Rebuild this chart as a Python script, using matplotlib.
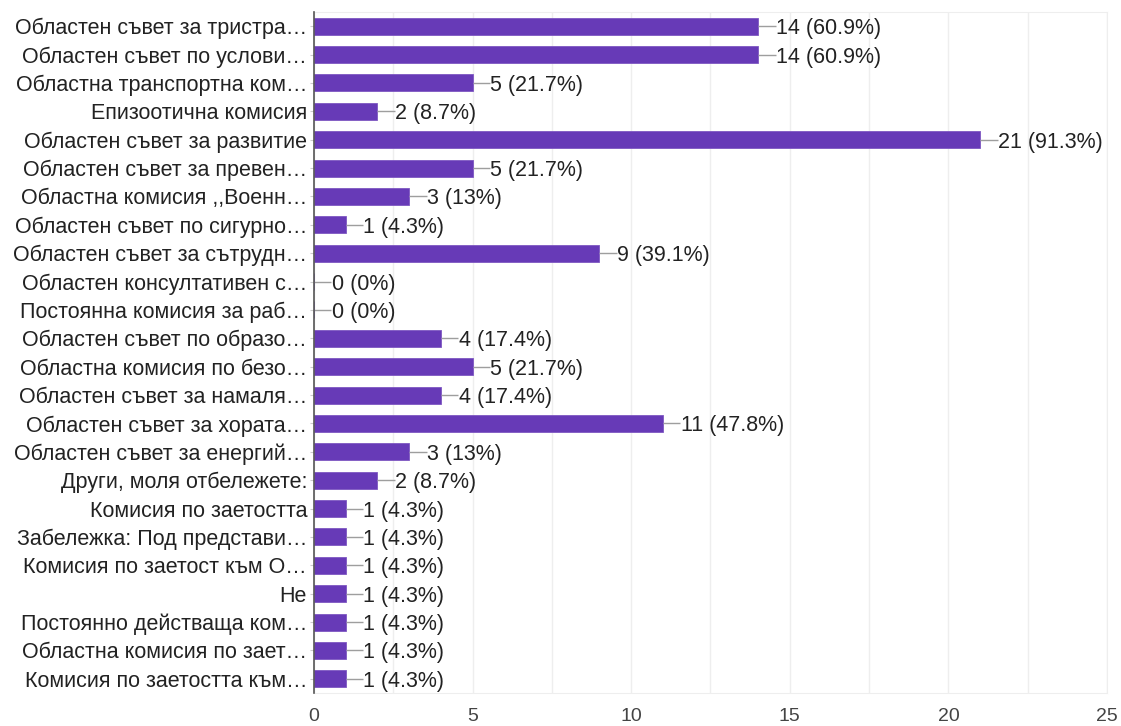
import matplotlib.pyplot as plt
import numpy as np

plt.rcParams['font.family'] = ['Liberation Sans', 'DejaVu Sans']

# ---------- Data ----------
labels = [
    "Областен съвет за тристра…",
    "Областен съвет по услови…",
    "Областна транспортна ком…",
    "Епизоотична комисия",
    "Областен съвет за развитие",
    "Областен съвет за превен…",
    "Областна комисия ,,Военн…",
    "Областен съвет по сигурно…",
    "Областен съвет за сътрудн…",
    "Областен консултативен с…",
    "Постоянна комисия за раб…",
    "Областен съвет по образо…",
    "Областна комисия по безо…",
    "Областен съвет за намаля…",
    "Областен съвет за хората…",
    "Областен съвет за енергий…",
    "Други, моля отбележете:",
    "Комисия по заетостта",
    "Забележка: Под представи…",
    "Комисия по заетост към О…",
    "Не",
    "Постоянно действаща ком…",
    "Областна комисия по зает…",
    "Комисия по заетостта към…",
]
counts = [14, 14, 5, 2, 21, 5, 3, 1, 9, 0, 0, 4, 5, 4, 11, 3, 2, 1, 1, 1, 1, 1, 1, 1]
pcts = ["60.9", "60.9", "21.7", "8.7", "91.3", "21.7", "13", "4.3", "39.1", "0", "0",
        "17.4", "21.7", "17.4", "47.8", "13", "8.7", "4.3", "4.3", "4.3", "4.3", "4.3",
        "4.3", "4.3"]
x_ticks = [0, 5, 10, 15, 20, 25]

# ---------- Plot ----------
fig = plt.figure(figsize=(11.21, 7.26), dpi=100)
ax = fig.add_axes([0.2801, 0.0455, 0.7074, 0.938])

y = np.arange(len(labels))
ax.barh(y, counts, height=0.6, color='#673ab7', edgecolor='#7e57c2', linewidth=0.6, zorder=3)

# value labels with small connector line
for i, v in enumerate(counts):
    ax.plot([v, v + 0.55], [i, i], color='#9e9e9e', lw=1, zorder=3, solid_capstyle='butt')
    ax.text(v + 0.56, i, f"{v} ({pcts[i]}%)", va='center_baseline', ha='left',
            fontsize=15.5, color='#222222', zorder=4)

ax.set_xlim(0, 25)
ax.set_ylim(len(labels) - 0.5, -0.5)
ax.set_yticks(y)
ax.set_yticklabels(labels, fontsize=15.5, color='#222222')
ax.set_xticks(x_ticks)
ax.set_xticklabels([str(t) for t in x_ticks], fontsize=14, color='#444444')
ax.set_xticks(np.arange(2.5, 25, 5), minor=True)

ax.tick_params(axis='x', length=0, pad=11)
ax.tick_params(axis='x', which='minor', length=0)
ax.tick_params(axis='y', length=3, color='#cccccc', pad=2)

ax.grid(True, axis='x', which='both', color='#eeeeee', lw=1, zorder=0)
for s in ['top', 'right', 'bottom']:
    ax.spines[s].set_color('#eeeeee')
ax.spines['left'].set_color('#555555')
ax.spines['left'].set_linewidth(1.2)
ax.spines['left'].set_zorder(5)

fig.savefig('out.png', dpi=100)
